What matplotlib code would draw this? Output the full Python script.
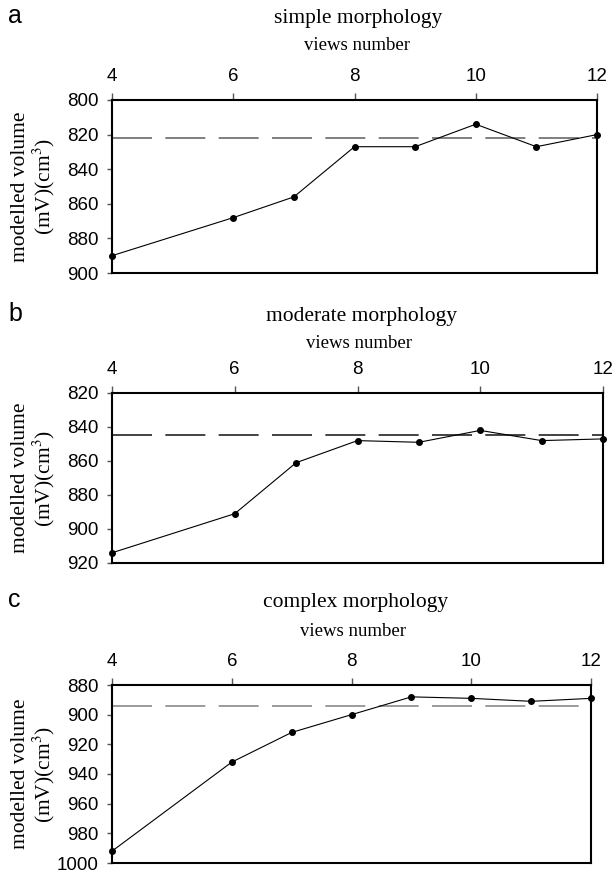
import matplotlib
matplotlib.use("Agg")
import matplotlib.pyplot as plt

plt.rcParams["mathtext.fontset"] = "stix"

views = [4, 6, 7, 8, 9, 10, 11, 12]
simple_vol = [890, 868, 856, 827, 827, 814, 827, 820]
moderate_vol = [914, 891, 861, 848, 849, 842, 848, 847]
complex_vol = [992, 932, 912, 900, 888, 889, 891, 889]
ref_vols = [822, 845, 894]
titles = ["simple morphology", "moderate morphology", "complex morphology"]
letters = ["a", "b", "c"]
xticks = [4, 6, 8, 10, 12]
yticks_list = [[800, 820, 840, 860, 880, 900],
               [820, 840, 860, 880, 900, 920],
               [880, 900, 920, 940, 960, 980, 1000]]
series = [simple_vol, moderate_vol, complex_vol]

W, H = 614, 873
fig = plt.figure(figsize=(W / 100, H / 100), dpi=100)

# axes boxes in pixel coords: left, right, top, bottom
boxes = [(112, 597, 100, 273), (112, 603, 393, 563), (112, 591, 685, 863)]
title_off = [82, 77, 83]
views_off = [54, 50, 54]
dash_colors = ["#6a6a6a", "#222222", "#8a8a8a"]
serif = ["Liberation Serif", "DejaVu Serif"]
sans = ["Liberation Sans", "DejaVu Sans"]

for i in range(3):
    l, r, t, b = boxes[i]
    ax = fig.add_axes([l / W, 1 - b / H, (r - l) / W, (b - t) / H])
    yt = yticks_list[i]
    ax.plot(views, series[i], color="black", lw=0.8, marker="o", ms=4, zorder=3, clip_on=False)
    ax.axhline(ref_vols[i], color=dash_colors[i], lw=1.2, dashes=(24, 8))
    ax.set_xlim(4, 12)
    ax.set_ylim(yt[-1], yt[0])
    ax.set_xticks(xticks)
    ax.set_yticks(yt)
    ax.xaxis.tick_top()
    ax.tick_params(axis="x", which="both", top=True, bottom=False, direction="out",
                   length=5, width=1, pad=6, color="#555555")
    ax.tick_params(axis="y", direction="out", length=3.6, width=1, pad=6, right=False,
                   color="#555555")
    for lab in ax.get_xticklabels() + ax.get_yticklabels():
        lab.set_fontfamily(sans)
        lab.set_fontsize(13.5)
    for s in ax.spines.values():
        s.set_linewidth(1.5)
    fig.text(34 / W, 1 - (t + b) / 2 / H, "modelled volume\n(mV)(cm$^3$)", rotation=90,
             ha="center", va="center", family=serif, fontsize=15.5, linespacing=1.05)
    # titles
    fig.text((l + r) / 2 / W + 4 / W, 1 - (t - title_off[i]) / H, titles[i], ha="center", va="center",
             family=serif, fontsize=15.5)
    fig.text((l + r) / 2 / W + 2 / W, 1 - (t - views_off[i]) / H, "views number", ha="center",
             va="center", family=serif, fontsize=13.5)
    fig.text(8 / W, 1 - (t - title_off[i] - 2) / H, letters[i], ha="left", va="center",
             family=sans, fontsize=18)

fig.savefig("out.png", dpi=100)
